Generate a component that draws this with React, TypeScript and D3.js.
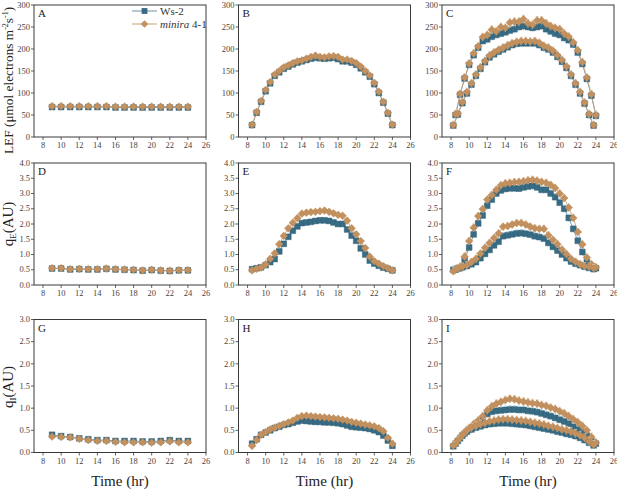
import React from "react";
import * as d3 from "d3";

// ---------- time bases ----------
const tHour = [9, 10, 11, 12, 13, 14, 15, 16, 17, 18, 19, 20, 21, 22, 23, 24];
const tHalf = [8.5, 9, 9.5, 10, 10.5, 11, 11.5, 12, 12.5, 13, 13.5, 14, 14.5, 15, 15.5, 16, 16.5, 17, 17.5, 18, 18.5, 19, 19.5, 20, 20.5, 21, 21.5, 22, 22.5, 23, 23.5, 24];
const tQuarter = [8.25, 8.75, 9.25, 9.75, 10.25, 10.75, 11.25, 11.75, 12.25, 12.75, 13.25, 13.75, 14.25, 14.75, 15.25, 15.75, 16.25, 16.75, 17.25, 17.75, 18.25, 18.75, 19.25, 19.75, 20.25, 20.75, 21.25, 21.75, 22.25, 22.75, 23.25, 23.75];
const xTicks = [8, 10, 12, 14, 16, 18, 20, 22, 24, 26];
const lefTicks = [0, 50, 100, 150, 200, 250, 300];
const qeTicks = [0, 0.5, 1.0, 1.5, 2.0, 2.5, 3.0, 3.5, 4.0];
const qiTicks = [0, 0.5, 1.0, 1.5, 2.0, 2.5, 3.0];

// ---------- LEF ----------
const lefA_ws = [68, 68, 68, 68, 68, 68, 68, 67, 67, 67, 67, 67, 67, 67, 67, 67];
const lefA_mi = [70, 70, 70, 70, 70, 70, 70, 69, 69, 69, 69, 69, 69, 69, 69, 69];
const lefB_ws = [27, 55, 80, 104, 122, 139, 147, 155, 160, 165, 169, 172, 175, 178, 180, 179, 178, 179, 180, 177, 172, 172, 169, 164, 156, 147, 137, 120, 100, 78, 53, 27];
const lefB_mi = [28, 57, 82, 107, 125, 142, 150, 158, 163, 168, 172, 174, 178, 182, 185, 182, 181, 183, 184, 182, 176, 176, 173, 168, 160, 150, 140, 123, 103, 80, 55, 28];
const lefC_hi_ws = [50, 96, 133, 164, 186, 203, 218, 222, 228, 232, 235, 238, 242, 245, 250, 252, 250, 248, 250, 252, 245, 240, 235, 232, 225, 220, 210, 192, 166, 132, 94, 48];
const lefC_hi_mi = [52, 98, 135, 167, 190, 206, 227, 232, 244, 240, 250, 248, 260, 262, 262, 268, 258, 255, 265, 265, 258, 252, 248, 245, 235, 228, 215, 197, 170, 135, 97, 50];
const lefC_lo_ws = [26, 51, 77, 99, 119, 139, 155, 170, 181, 188, 194, 199, 204, 209, 212, 213, 213, 213, 213, 209, 203, 199, 192, 182, 171, 157, 139, 119, 99, 76, 50, 26];
const lefC_lo_mi = [27, 53, 79, 102, 122, 142, 158, 173, 185, 192, 198, 203, 208, 213, 216, 218, 218, 217, 218, 214, 207, 203, 196, 186, 175, 160, 142, 122, 102, 78, 52, 27];

// ---------- qE ----------
const qeD_ws = [0.54, 0.54, 0.51, 0.52, 0.51, 0.51, 0.53, 0.51, 0.5, 0.49, 0.47, 0.49, 0.47, 0.46, 0.48, 0.48];
const qeD_mi = [0.55, 0.55, 0.52, 0.53, 0.52, 0.52, 0.54, 0.52, 0.51, 0.5, 0.48, 0.5, 0.48, 0.47, 0.49, 0.49];
const qeE_ws = [0.52, 0.55, 0.58, 0.65, 0.75, 0.85, 1.1, 1.35, 1.58, 1.78, 1.92, 2.03, 2.05, 2.07, 2.1, 2.12, 2.12, 2.1, 2.05, 2.0, 2.0, 1.82, 1.62, 1.45, 1.2, 1.0, 0.8, 0.7, 0.63, 0.57, 0.53, 0.48];
const qeE_mi = [0.48, 0.53, 0.57, 0.68, 0.86, 1.04, 1.34, 1.61, 1.86, 2.04, 2.19, 2.34, 2.37, 2.39, 2.4, 2.42, 2.44, 2.4, 2.35, 2.3, 2.27, 2.11, 1.86, 1.66, 1.44, 1.21, 0.93, 0.78, 0.7, 0.62, 0.55, 0.48];
const qeF_hi_ws = [0.5, 0.55, 0.82, 1.23, 1.66, 2.02, 2.28, 2.6, 2.8, 3.0, 3.1, 3.15, 3.17, 3.17, 3.16, 3.2, 3.23, 3.25, 3.2, 3.12, 3.12, 3.0, 2.88, 2.7, 2.5, 2.2, 1.84, 1.45, 1.08, 0.75, 0.62, 0.55];
const qeF_hi_mi = [0.5, 0.6, 0.93, 1.44, 1.88, 2.26, 2.49, 2.8, 2.95, 3.12, 3.27, 3.33, 3.35, 3.37, 3.38, 3.4, 3.43, 3.45, 3.42, 3.38, 3.35, 3.28, 3.18, 3.0, 2.85, 2.54, 2.2, 1.74, 1.33, 0.9, 0.68, 0.58];
const qeF_lo_ws = [0.5, 0.55, 0.58, 0.62, 0.68, 0.75, 0.88, 1.02, 1.15, 1.3, 1.42, 1.6, 1.63, 1.66, 1.69, 1.7, 1.68, 1.65, 1.6, 1.57, 1.52, 1.38, 1.25, 1.13, 1.0, 0.88, 0.77, 0.7, 0.65, 0.6, 0.56, 0.52];
const qeF_lo_mi = [0.45, 0.55, 0.6, 0.65, 0.75, 0.86, 1.03, 1.22, 1.38, 1.54, 1.69, 1.91, 1.93, 1.98, 2.03, 2.03, 1.98, 1.91, 1.86, 1.84, 1.84, 1.63, 1.48, 1.34, 1.16, 1.01, 0.86, 0.76, 0.68, 0.62, 0.6, 0.55];

// ---------- qI ----------
const qiG_ws = [0.4, 0.37, 0.35, 0.32, 0.3, 0.28, 0.28, 0.26, 0.26, 0.26, 0.25, 0.25, 0.26, 0.28, 0.26, 0.26];
const qiG_mi = [0.36, 0.35, 0.34, 0.31, 0.28, 0.26, 0.26, 0.24, 0.23, 0.23, 0.23, 0.22, 0.23, 0.25, 0.23, 0.23];
const qiH_ws = [0.2, 0.3, 0.4, 0.45, 0.5, 0.55, 0.58, 0.62, 0.64, 0.67, 0.7, 0.72, 0.71, 0.7, 0.69, 0.69, 0.68, 0.68, 0.67, 0.66, 0.64, 0.61, 0.58, 0.57, 0.56, 0.55, 0.53, 0.5, 0.46, 0.38, 0.27, 0.15];
const qiH_mi = [0.15, 0.28, 0.4, 0.46, 0.52, 0.56, 0.6, 0.64, 0.68, 0.72, 0.78, 0.82, 0.83, 0.82, 0.81, 0.8, 0.79, 0.78, 0.77, 0.76, 0.74, 0.72, 0.69, 0.67, 0.65, 0.63, 0.61, 0.59, 0.55, 0.48, 0.33, 0.2];
const qiI_hi_ws = [0.2, 0.32, 0.43, 0.52, 0.6, 0.68, 0.76, 0.87, 0.92, 0.94, 0.95, 0.96, 0.97, 0.97, 0.96, 0.96, 0.94, 0.93, 0.91, 0.88, 0.85, 0.82, 0.78, 0.74, 0.7, 0.65, 0.58, 0.52, 0.46, 0.38, 0.28, 0.2];
const qiI_hi_mi = [0.2, 0.33, 0.45, 0.55, 0.64, 0.72, 0.82, 0.95, 1.04, 1.1, 1.14, 1.18, 1.21, 1.2, 1.17, 1.15, 1.13, 1.11, 1.1, 1.07, 1.05, 1.01, 0.98, 0.93, 0.88, 0.82, 0.75, 0.68, 0.6, 0.5, 0.35, 0.22];
const qiI_lo_ws = [0.14, 0.26, 0.38, 0.47, 0.52, 0.56, 0.59, 0.62, 0.64, 0.65, 0.66, 0.66, 0.66, 0.65, 0.64, 0.63, 0.62, 0.6, 0.58, 0.56, 0.54, 0.52, 0.5, 0.47, 0.45, 0.42, 0.4, 0.37, 0.33, 0.28, 0.22, 0.16];
const qiI_lo_mi = [0.16, 0.28, 0.4, 0.5, 0.56, 0.6, 0.64, 0.67, 0.7, 0.72, 0.74, 0.75, 0.75, 0.74, 0.73, 0.72, 0.71, 0.69, 0.67, 0.65, 0.63, 0.6, 0.58, 0.55, 0.52, 0.5, 0.47, 0.43, 0.39, 0.33, 0.25, 0.18];

// error magnitudes per panel (approximate)
const errLEF = [2, 3, 9];
const errQE = [0.02, 0.08, 0.12];
const errQI = [0.02, 0.04, 0.09];

const WS_COLOR = "#386c84";
const WS_LINE = "#6d93a6";
const WS_ERR = "#b9d8ea";
const MI_COLOR = "#c2915f";
const MI_LINE = "#c9a27a";
const MI_ERR = "#e8d2b8";
const AXIS = "#3a3a3a";
const FONT = "Liberation Serif, serif";

type Series = { t: number[]; v: number[]; kind: "ws" | "mi"; err: number };
type Panel = {
  letter: string;
  col: number;
  row: number;
  ticks: number[];
  fmt: (v: number) => string;
  series: Series[];
};

const colX = [34, 238.5, 442];
const colW = 172;
const rowY = [5, 163, 319.5];
const rowH = [132, 122, 133];
const yMax = [300, 4, 3];

const fmtInt = (v: number) => d3.format("d")(v);
const fmt1 = (v: number) => d3.format(".1f")(v);

const panels: Panel[] = [
  { letter: "A", col: 0, row: 0, ticks: lefTicks, fmt: fmtInt, series: [
    { t: tHour, v: lefA_ws, kind: "ws", err: errLEF[0] },
    { t: tHour, v: lefA_mi, kind: "mi", err: errLEF[0] },
  ] },
  { letter: "B", col: 1, row: 0, ticks: lefTicks, fmt: fmtInt, series: [
    { t: tHalf, v: lefB_ws, kind: "ws", err: errLEF[1] },
    { t: tHalf, v: lefB_mi, kind: "mi", err: errLEF[1] },
  ] },
  { letter: "C", col: 2, row: 0, ticks: lefTicks, fmt: fmtInt, series: [
    { t: tHalf, v: lefC_hi_ws, kind: "ws", err: errLEF[2] },
    { t: tQuarter, v: lefC_lo_ws, kind: "ws", err: errLEF[2] },
    { t: tHalf, v: lefC_hi_mi, kind: "mi", err: errLEF[2] },
    { t: tQuarter, v: lefC_lo_mi, kind: "mi", err: errLEF[2] },
  ] },
  { letter: "D", col: 0, row: 1, ticks: qeTicks, fmt: fmt1, series: [
    { t: tHour, v: qeD_ws, kind: "ws", err: errQE[0] },
    { t: tHour, v: qeD_mi, kind: "mi", err: errQE[0] },
  ] },
  { letter: "E", col: 1, row: 1, ticks: qeTicks, fmt: fmt1, series: [
    { t: tHalf, v: qeE_ws, kind: "ws", err: errQE[1] },
    { t: tHalf, v: qeE_mi, kind: "mi", err: errQE[1] },
  ] },
  { letter: "F", col: 2, row: 1, ticks: qeTicks, fmt: fmt1, series: [
    { t: tHalf, v: qeF_hi_ws, kind: "ws", err: errQE[2] },
    { t: tQuarter, v: qeF_lo_ws, kind: "ws", err: errQE[2] },
    { t: tHalf, v: qeF_hi_mi, kind: "mi", err: errQE[2] },
    { t: tQuarter, v: qeF_lo_mi, kind: "mi", err: errQE[2] },
  ] },
  { letter: "G", col: 0, row: 2, ticks: qiTicks, fmt: fmt1, series: [
    { t: tHour, v: qiG_ws, kind: "ws", err: errQI[0] },
    { t: tHour, v: qiG_mi, kind: "mi", err: errQI[0] },
  ] },
  { letter: "H", col: 1, row: 2, ticks: qiTicks, fmt: fmt1, series: [
    { t: tHalf, v: qiH_ws, kind: "ws", err: errQI[1] },
    { t: tHalf, v: qiH_mi, kind: "mi", err: errQI[1] },
  ] },
  { letter: "I", col: 2, row: 2, ticks: qiTicks, fmt: fmt1, series: [
    { t: tHalf, v: qiI_hi_ws, kind: "ws", err: errQI[2] },
    { t: tQuarter, v: qiI_lo_ws, kind: "ws", err: errQI[2] },
    { t: tHalf, v: qiI_hi_mi, kind: "mi", err: errQI[2] },
    { t: tQuarter, v: qiI_lo_mi, kind: "mi", err: errQI[2] },
  ] },
];

const squarePath = d3.symbol(d3.symbolSquare, 34)() as string;
const diamondPath = d3.symbol(d3.symbolSquare, 30)() as string;

function PanelView({ p }: { p: Panel }) {
  const x0 = colX[p.col];
  const y0 = rowY[p.row];
  const h = rowH[p.row];
  const x = d3.scaleLinear().domain([7, 26]).range([0, colW]);
  const y = d3.scaleLinear().domain([0, yMax[p.row]]).range([h, 0]);
  const line = d3.line<[number, number]>().x((d) => x(d[0])).y((d) => y(d[1]));
  const ordered = [...p.series.filter((s) => s.kind === "ws"), ...p.series.filter((s) => s.kind === "mi")];
  return (
    <g transform={`translate(${x0},${y0})`}>
      {p.series.map((s, i) => (
        <path key={"l" + i} d={line(s.t.map((t, j) => [t, s.v[j]] as [number, number])) || ""}
          fill="none" stroke={s.kind === "ws" ? WS_LINE : MI_LINE} strokeWidth={0.9} />
      ))}
      {ordered.map((s, i) => (
        <g key={"s" + i}>
          {s.t.map((t, j) => (
            <g key={j} stroke={s.kind === "ws" ? WS_ERR : MI_ERR} strokeWidth={0.8}>
              <line x1={x(t)} x2={x(t)} y1={y(s.v[j] - s.err)} y2={y(s.v[j] + s.err)} />
              <line x1={x(t) - 1.5} x2={x(t) + 1.5} y1={y(s.v[j] + s.err)} y2={y(s.v[j] + s.err)} />
            </g>
          ))}
          {s.t.map((t, j) => (
            <path key={"m" + j} d={s.kind === "ws" ? squarePath : diamondPath}
              transform={`translate(${x(t)},${y(s.v[j])})${s.kind === "mi" ? " rotate(45)" : ""}`}
              fill={s.kind === "ws" ? WS_COLOR : MI_COLOR}
              stroke={s.kind === "ws" ? "#2f5f76" : "#b88552"} strokeWidth={0.4} />
          ))}
        </g>
      ))}
      <rect x={0} y={0} width={colW} height={h} fill="none" stroke={AXIS} strokeWidth={1} />
      {p.ticks.map((v) => (
        <g key={"yt" + v} transform={`translate(0,${y(v)})`}>
          <line x1={-3} x2={0} stroke={AXIS} strokeWidth={0.8} />
          <text x={-4} dy="0.32em" textAnchor="end" fontSize={8.5} fill="#444" fontFamily={FONT}>{p.fmt(v)}</text>
        </g>
      ))}
      {xTicks.map((v) => (
        <g key={"xt" + v} transform={`translate(${x(v)},${h})`}>
          <line y1={0} y2={3} stroke={AXIS} strokeWidth={0.8} />
          <text y={11} textAnchor="middle" fontSize={8.5} fill="#444" fontFamily={FONT}>{v}</text>
        </g>
      ))}
      <text x={4} y={12} fontSize={11} fill="#222" fontFamily={FONT}>{p.letter}</text>
    </g>
  );
}

export default function App() {
  return (
    <svg width={617} height={491} style={{ position: "absolute", left: 0, top: 0, background: "#fff" }}
      fontFamily={FONT}>
      <rect width={617} height={491} fill="#fff" />
      {panels.map((p) => <PanelView key={p.letter} p={p} />)}
      <g fontFamily={FONT} fontSize={11} fill="#333">
        <line x1={132} x2={157} y1={11} y2={11} stroke={WS_LINE} strokeWidth={1} />
        <path d={squarePath} transform="translate(144.5,11)" fill={WS_COLOR} />
        <text x={160} y={15}>Ws-2</text>
        <line x1={132} x2={157} y1={24} y2={24} stroke={MI_LINE} strokeWidth={1} />
        <path d={diamondPath} transform="translate(144.5,24) rotate(45)" fill={MI_COLOR} />
        <text x={160} y={28}><tspan fontStyle="italic">minira</tspan> 4-1</text>
      </g>
      <text transform="translate(13,154) rotate(-90)" fontSize={13.3} fill="#222" fontFamily={FONT}>
        LEF (μmol electrons m<tspan fontSize={8} dy={-5.5}>-2</tspan><tspan dy={5.5}>s</tspan><tspan fontSize={8} dy={-5.5}>-1</tspan><tspan dy={5.5}>)</tspan>
      </text>
      <text transform="translate(13,224) rotate(-90)" fontSize={15} fill="#222" textAnchor="middle" fontFamily={FONT}>
        q<tspan fontSize={9} dy={3}>E</tspan><tspan dy={-3}>(AU)</tspan>
      </text>
      <text transform="translate(13,387) rotate(-90)" fontSize={15} fill="#222" textAnchor="middle" fontFamily={FONT}>
        q<tspan fontSize={9} dy={3}>I</tspan><tspan dy={-3}>(AU)</tspan>
      </text>
      {colX.map((cx, i) => (
        <text key={i} x={cx + colW / 2} y={486} textAnchor="middle" fontSize={15} fill="#222" fontFamily={FONT}>Time (hr)</text>
      ))}
    </svg>
  );
}
